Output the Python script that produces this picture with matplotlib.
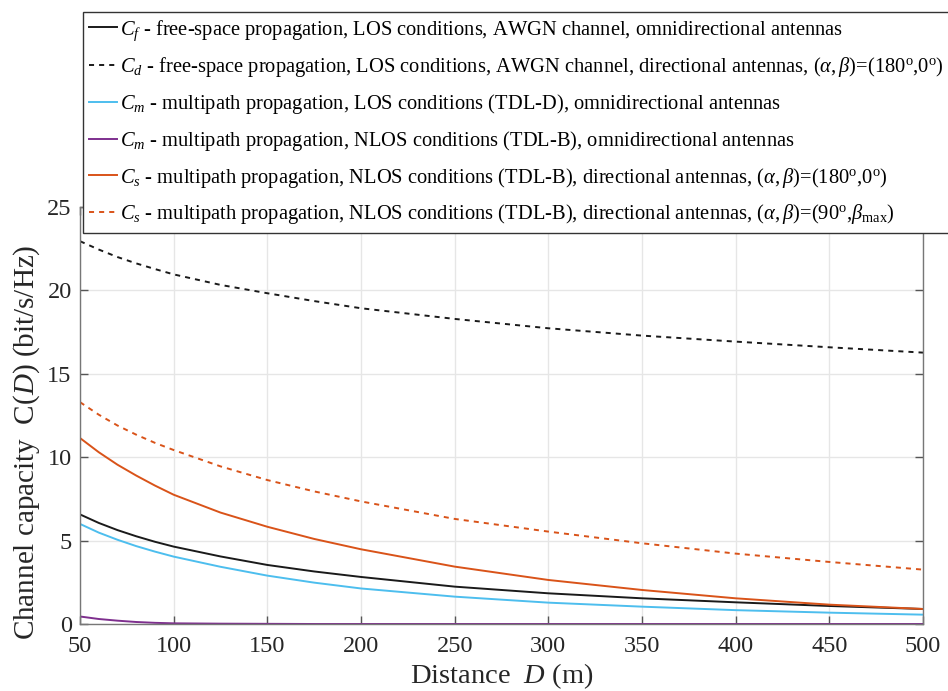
import matplotlib
matplotlib.use("Agg")
import matplotlib.pyplot as plt

plt.rcParams['font.family'] = ['Liberation Serif', 'DejaVu Serif']
plt.rcParams['mathtext.fontset'] = 'custom'
plt.rcParams['mathtext.rm'] = 'Liberation Serif'
plt.rcParams['mathtext.it'] = 'Liberation Serif:italic'
plt.rcParams['mathtext.bf'] = 'Liberation Serif:bold'

# Distance (m)
D = [50, 60, 70, 80, 90, 100, 125, 150, 175, 200, 250, 300, 350, 400, 450, 500]

# Channel capacity series (bit/s/Hz)
C_f = [6.57, 6.06, 5.63, 5.26, 4.93, 4.64, 4.05, 3.54, 3.15, 2.82, 2.24, 1.84, 1.54, 1.3, 1.08, 0.9]
C_d = [22.95, 22.45, 22.0, 21.62, 21.28, 20.96, 20.33, 19.83, 19.36, 18.93, 18.29, 17.73, 17.29, 16.93, 16.59, 16.27]
C_m_los = [6.0, 5.48, 5.05, 4.67, 4.34, 4.04, 3.43, 2.9, 2.48, 2.13, 1.64, 1.28, 1.04, 0.83, 0.68, 0.56]
C_m_nlos = [0.45, 0.3, 0.2, 0.12, 0.07, 0.04, 0.02, 0.01, 0.0, 0.0, 0.0, 0.0, 0.0, 0.0, 0.0, 0.0]
C_s_180 = [11.15, 10.3, 9.55, 8.9, 8.3, 7.75, 6.68, 5.83, 5.1, 4.48, 3.44, 2.64, 2.04, 1.54, 1.16, 0.9]
C_s_90 = [13.3, 12.55, 11.9, 11.35, 10.86, 10.43, 9.45, 8.63, 7.95, 7.35, 6.3, 5.54, 4.84, 4.22, 3.72, 3.26]

labels = [
    r'$C_f$ - free-space propagation, LOS conditions, AWGN channel, omnidirectional antennas',
    r'$C_d$ - free-space propagation, LOS conditions, AWGN channel, directional antennas, $(\alpha,\beta)$=(180$^{\rm o}$,0$^{\rm o}$)',
    r'$C_m$ - multipath propagation, LOS conditions (TDL-D), omnidirectional antennas',
    r'$C_m$ - multipath propagation, NLOS conditions (TDL-B), omnidirectional antennas',
    r'$C_s$ - multipath propagation, NLOS conditions (TDL-B), directional antennas, $(\alpha,\beta)$=(180$^{\rm o}$,0$^{\rm o}$)',
    r'$C_s$ - multipath propagation, NLOS conditions (TDL-B), directional antennas, $(\alpha,\beta)$=(90$^{\rm o}$,$\beta_{\rm max}$)',
]

x_ticks = [50, 100, 150, 200, 250, 300, 350, 400, 450, 500]
y_ticks = [0, 5, 10, 15, 20, 25]

W, H = 948, 691
fig = plt.figure(figsize=(W / 100, H / 100), dpi=100)
ax = fig.add_axes([80 / W, 1 - 624 / H, 843 / W, 417 / H])

lw = 1.4
dash = (0, (2.6, 2.6))
ax.plot(D, C_f, color='#1a1a1a', lw=lw, label=labels[0])
ax.plot(D, C_d, color='#1a1a1a', lw=lw, ls=dash, label=labels[1])
ax.plot(D, C_m_los, color='#4DBEEE', lw=lw, label=labels[2])
ax.plot(D, C_m_nlos, color='#7E2F8E', lw=lw, label=labels[3])
ax.plot(D, C_s_180, color='#D95319', lw=lw, label=labels[4])
ax.plot(D, C_s_90, color='#D95319', lw=lw, ls=dash, label=labels[5])

ax.set_xlim(50, 500)
ax.set_ylim(0, 25)
ax.set_xticks(x_ticks)
ax.set_yticks(y_ticks)
ax.tick_params(axis='both', direction='in', length=6, width=1, colors='#555555',
               labelcolor='#262626', labelsize=17.5, top=True, right=True)
ax.tick_params(axis='x', pad=9)
ax.tick_params(axis='y', pad=6)
for s in ax.spines.values():
    s.set_color('#777777')
    s.set_linewidth(1.0)
ax.grid(True, color='#e6e6e6', lw=1.0)
ax.set_axisbelow(True)

ax.set_xlabel(r'Distance  $D$ (m)', fontsize=20.5, color='#262626', labelpad=3)
ax.set_ylabel(r'Channel capacity  C($D$) (bit/s/Hz)', fontsize=21, color='#262626')
ax.yaxis.set_label_coords(-0.045, (624 - 442) / 417)

leg = fig.legend(loc='upper left', bbox_to_anchor=(83 / W, 1 - 12 / H),
                 bbox_transform=fig.transFigure, fontsize=14.8, frameon=True,
                 fancybox=False, framealpha=1, edgecolor='#333333',
                 handlelength=1.35, handletextpad=0.15, labelspacing=0.62,
                 borderpad=0.3, borderaxespad=0)
leg.get_frame().set_linewidth(1.0)

fig.savefig('out.png', dpi=100)
